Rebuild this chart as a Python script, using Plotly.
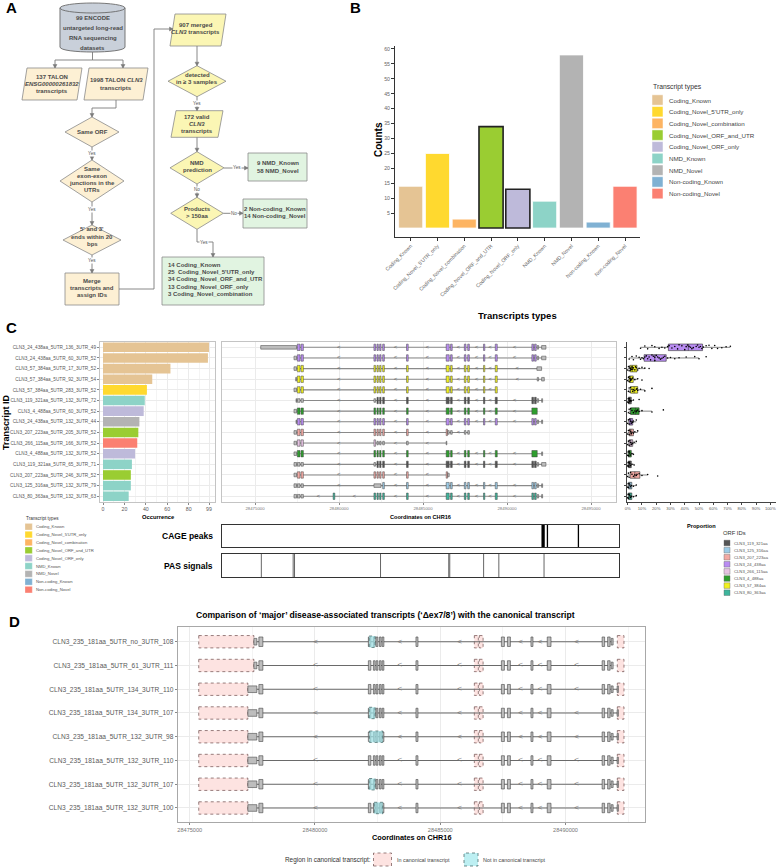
import plotly.graph_objects as go

W, H = 777, 867
FONT = "Liberation Sans, Arial, sans-serif"

# ---------------- DATA: panel B ----------------
type_names = ["Coding_Known", "Coding_Novel_5'UTR_only", "Coding_Novel_combination",
              "Coding_Novel_ORF_and_UTR", "Coding_Novel_ORF_only", "NMD_Known",
              "NMD_Novel", "Non-coding_Known", "Non-coding_Novel"]
type_counts = [14, 25, 3, 34, 13, 9, 58, 2, 14]
count_ticks = [5, 10, 15, 20, 25, 30, 35, 40, 45, 50, 55, 60]

# ---------------- DATA: panel C ----------------
c_ids = ["CLN3_24_438aa_5UTR_136_3UTR_49", "CLN3_24_438aa_5UTR_60_3UTR_52",
         "CLN3_57_384aa_5UTR_17_3UTR_52", "CLN3_57_384aa_5UTR_92_3UTR_54",
         "CLN3_57_384aa_5UTR_283_3UTR_52", "CLN3_119_321aa_5UTR_132_3UTR_72",
         "CLN3_4_488aa_5UTR_60_3UTR_52", "CLN3_24_438aa_5UTR_132_3UTR_44",
         "CLN3_207_223aa_5UTR_205_3UTR_52", "CLN3_266_115aa_5UTR_166_3UTR_52",
         "CLN3_4_488aa_5UTR_132_3UTR_52", "CLN3_119_321aa_5UTR_65_3UTR_71",
         "CLN3_207_223aa_5UTR_246_3UTR_52", "CLN3_125_316aa_5UTR_132_3UTR_79",
         "CLN3_80_363aa_5UTR_132_3UTR_63"]
c_types = ["Coding_Known", "Coding_Known", "Coding_Known", "Coding_Known",
           "Coding_Novel_5'UTR_only", "NMD_Known", "Coding_Novel_ORF_only", "NMD_Novel",
           "Coding_Novel_ORF_and_UTR", "Non-coding_Novel", "Coding_Novel_ORF_only",
           "NMD_Known", "Coding_Novel_ORF_and_UTR", "NMD_Known", "NMD_Known"]
c_occurrence = [99, 98, 63, 46, 41, 39, 38, 34, 33, 32, 30, 27, 26, 26, 24]
occ_ticks = [0, 20, 40, 60, 80, 99]
c_orfs = [i.split("_5UTR")[0] for i in c_ids]

canon_exons = [(28475340, 28477480), (28477520, 28477680), (28477740, 28477880),
               (28482080, 28482180), (28482260, 28482340), (28482420, 28482500),
               (28482600, 28482700), (28484020, 28484120), (28486380, 28486560),
               (28486640, 28486740), (28487460, 28487560), (28487660, 28487760),
               (28488600, 28488680), (28489300, 28489420), (28491480, 28491580),
               (28491640, 28491740), (28491800, 28491880), (28492060, 28492320)]
c_tx_start = [28475340, 28477320, 28477320, 28477420, 28477320, 28477440, 28477320, 28477440,
              28477320, 28477320, 28477320, 28477320, 28477320, 28477320, 28477320]
c_tx_end = [28492320, 28492320, 28492060, 28492220, 28489420, 28492120, 28491800, 28492120,
            28487760, 28486420, 28492120, 28492320, 28486560, 28492120, 28492120]
c_cds_start = [28477520, 28477520, 28477520, 28477520, 28477520, 28482260, 28477520, 28477520,
               28477520, 28477520, 28477520, 28482260, 28477520, 28482600, 28479650]
c_cds_end = [28491740, 28491740, 28489420, 28489420, 28489420, 28491740, 28491800, 28491740,
             28486460, 28482180, 28491800, 28491740, 28486460, 28491740, 28491740]
c_skip = [[], [], [14, 15, 16, 17], [14, 15], [], [], [14, 15, 16, 17], [], [], [],
          [14, 15, 16], [], [], [3, 4, 5], []]
c_extra = [[], [], [(28491780, 28492060)], [], [], [], [(28491480, 28491800)], [], [], [],
           [(28491480, 28491800)], [], [], [(28482080, 28482500)], [(28479650, 28479750)]]
coord_ticks_c = [28475000, 28480000, 28485000, 28490000, 28495000]

c_prop = [
    [9, 12, 14, 17, 19, 22, 24, 26, 28, 29, 31, 33, 35, 36, 38, 40, 41, 42, 43, 44, 45,
     46, 48, 49, 50, 51, 52, 53, 55, 57, 59, 61, 63, 66, 69, 72],
    [1, 3, 4, 6, 8, 9, 10, 11, 12, 13, 14, 15, 16, 17, 18, 19, 19, 20, 21, 22, 23, 24,
     25, 26, 28, 30, 33, 36, 41, 47, 50, 55],
    [0, 0.5, 1, 1, 1.5, 2, 2, 2.5, 3, 3, 3.5, 4, 5, 5.5, 6, 7, 8, 10, 12, 15],
    [0, 0.5, 1, 1, 1.5, 2, 2, 2.5, 3, 3.5, 5, 7, 10],
    [0.5, 1, 1.5, 2, 3, 3.5, 4, 5, 6, 6.5, 7, 9, 12, 17],
    [0, 0.3, 0.5, 1, 1, 1.5, 2, 2.5, 4, 8],
    [0.5, 1, 1.5, 2, 3, 4, 5, 6, 6.5, 7, 8, 10, 17, 25],
    [0, 0.5, 1, 1.5, 2, 2.5, 3, 3.5, 4, 6],
    [0, 0.5, 1, 1.5, 2, 2.5, 3, 4, 5, 7],
    [0, 0.5, 1, 1.5, 2, 2.5, 3, 3.5, 4.5, 6],
    [0, 0.3, 0.5, 1, 1.5, 2, 3, 4],
    [0, 0.3, 0.5, 1, 1.5, 2, 3, 4.5],
    [0, 0.5, 1, 2, 3, 4, 5, 6, 6.5, 8, 10, 14, 21],
    [0, 0.3, 0.5, 1, 1.5, 2, 2.5, 4, 6],
    [0, 0.3, 0.5, 1, 1.5, 2, 2.5, 4, 6],
]
prop_ticks = [0, 10, 20, 30, 40, 50, 60, 70, 80, 90, 100]
orf_ids = ["CLN3_119_321aa", "CLN3_125_316aa", "CLN3_207_223aa", "CLN3_24_438aa",
           "CLN3_266_115aa", "CLN3_4_488aa", "CLN3_57_384aa", "CLN3_80_363aa"]

cage_peaks = [28492005, 28492260, 28494090]
cage_scores = [5, 1, 1]
pas_sites = [28475360, 28477240, 28477320, 28482400, 28486430, 28486490, 28488490,
             28489390, 28492060]

# ---------------- DATA: panel D ----------------
d_ids = ["CLN3_235_181aa_5UTR_no_3UTR_108", "CLN3_235_181aa_5UTR_61_3UTR_111",
         "CLN3_235_181aa_5UTR_134_3UTR_110", "CLN3_235_181aa_5UTR_134_3UTR_107",
         "CLN3_235_181aa_5UTR_132_3UTR_98", "CLN3_235_181aa_5UTR_132_3UTR_110",
         "CLN3_235_181aa_5UTR_132_3UTR_107", "CLN3_235_181aa_5UTR_132_3UTR_100"]
d_utr3_start = [28477560, 28477560, 28477320, 28477320, 28477320, 28477320, 28477320, 28477320]
d_utr3_end = 28477680
d_exons = [(28477760, 28477920), (28482130, 28482230), (28482330, 28482400),
           (28482440, 28482510), (28482570, 28482640), (28482680, 28482750),
           (28484030, 28484110), (28487440, 28487560), (28487680, 28487800),
           (28488620, 28488700), (28489270, 28489420), (28491460, 28491560),
           (28491680, 28491780), (28491820, 28491900)]
d_utr5_tail = [None, None, (28492060, 28492110), (28492060, 28492110), (28492060, 28492110),
               (28492060, 28492110), (28492060, 28492110), (28492060, 28492110)]
d_cds = (28477680, 28491780)
d_canon_canonical = [(28486360, 28486520), (28486560, 28486710), (28492067, 28492333)]
d_canon_3start = 28475360
d_novel = [[(28482160, 28482400)], [], [], [(28482160, 28482400)], [(28482170, 28482707)],
           [], [(28482160, 28482400)], [(28482360, 28482707)]]
coord_ticks_d = [28475000, 28480000, 28485000, 28490000]

# ---------------- STYLES ----------------
type_color = {"Coding_Known": "#E5C494", "Coding_Novel_5'UTR_only": "#FFD92F",
              "Coding_Novel_combination": "#FDB462", "Coding_Novel_ORF_and_UTR": "#9ACD32",
              "Coding_Novel_ORF_only": "#BEBADA", "NMD_Known": "#8DD3C7",
              "NMD_Novel": "#B3B3B3", "Non-coding_Known": "#80B1D3",
              "Non-coding_Novel": "#FB8072"}
highlight = {"Coding_Novel_ORF_and_UTR", "Coding_Novel_ORF_only"}
orf_color = {"CLN3_119_321aa": "#555555", "CLN3_125_316aa": "#9CCBE6",
             "CLN3_207_223aa": "#F2A9A3", "CLN3_24_438aa": "#B98CF2",
             "CLN3_266_115aa": "#E6C3E3", "CLN3_4_488aa": "#2E9E2E",
             "CLN3_57_384aa": "#F0F020", "CLN3_80_363aa": "#3DB59C"}
UTR_GREY = "#BDBDBD"
GRID = "#EBEBEB"

shapes, annotations = [], []


def px(x):
    return x / W


def py(y):
    return 1 - y / H


def pt(x, y):
    return f"{px(x):.5f},{py(y):.5f}"


def dom_x(a, b):
    return [a / W, b / W]


def dom_y(top, bottom):
    return [1 - bottom / H, 1 - top / H]


def poly(points, fill, line="#8c8c8c", width=0.8, dash="solid"):
    d = "M " + " L ".join(pt(x, y) for x, y in points) + " Z"
    shapes.append(dict(type="path", path=d, xref="paper", yref="paper", fillcolor=fill,
                       line=dict(color=line, width=width, dash=dash)))


def rect(x0, y0, x1, y1, fill, line="#8c8c8c", width=0.8, dash="solid"):
    shapes.append(dict(type="rect", x0=px(x0), x1=px(x1), y0=py(y1), y1=py(y0),
                       xref="paper", yref="paper", fillcolor=fill,
                       line=dict(color=line, width=width, dash=dash)))


def text(x, y, s, size=6, color="#4a4a4a", bold=False, xanchor="center",
         yanchor="middle", angle=0, bg=None):
    if bold:
        s = f"<b>{s}</b>"
    a = dict(x=px(x), y=py(y), xref="paper", yref="paper", text=s, showarrow=False,
             font=dict(family=FONT, size=size, color=color), xanchor=xanchor,
             yanchor=yanchor, textangle=angle, borderpad=0)
    if bg:
        a["bgcolor"] = bg
    annotations.append(a)


def mtext(x, ys, lines, size=6, xanchor="center"):
    for y, s in zip(ys, lines):
        text(x, y, s, size=size, bold=True, xanchor=xanchor)


def conn(points, color="#7a7a7a"):
    for (x0, y0), (x1, y1) in zip(points[:-1], points[1:]):
        shapes.append(dict(type="line", x0=px(x0), y0=py(y0), x1=px(x1), y1=py(y1),
                           xref="paper", yref="paper", line=dict(color=color, width=0.9)))
    (xa, ya), (xb, yb) = points[-2], points[-1]
    s = 2.0
    if xb == xa:
        pts = [(xb - s, yb - 3.5), (xb + s, yb - 3.5), (xb, yb)]
    else:
        pts = [(xb - 3.5, yb - s), (xb - 3.5, yb + s), (xb, yb)]
    poly(pts, color, color, 0.5)


def small(x, y, s):
    text(x, y, s, size=4.6, color="#555", bg="white")


# ================= PANEL A: flowchart =================
PEACH, YEL, GRN, CYL = "#FDF0D4", "#FBF6B4", "#E1F4E1", "#C9D0DA"
EDGE = "#8a8a8a"

x0c, x1c, yt, yb, ry = 60, 125, 8, 47, 5
k = ry * 4 / 3
shapes.append(dict(type="path", xref="paper", yref="paper", fillcolor=CYL,
                   line=dict(color="#6a6a6a", width=0.9),
                   path=f"M {pt(x0c, yt)} L {pt(x0c, yb)} C {pt(x0c, yb + k)} "
                        f"{pt(x1c, yb + k)} {pt(x1c, yb)} L {pt(x1c, yt)} Z"))
shapes.append(dict(type="circle", xref="paper", yref="paper", x0=px(x0c), x1=px(x1c),
                   y0=py(yt + ry), y1=py(yt - ry), fillcolor=CYL,
                   line=dict(color="#6a6a6a", width=0.9)))
mtext(92.5, [18, 28, 38, 48], ["99 ENCODE", "untargeted long-read", "RNA sequencing",
                               "datasets"], size=6)


def para(xa, ya, xb, yb_, fill, sk=5):
    poly([(xa + sk, ya), (xb, ya), (xb - sk, yb_), (xa, yb_)], fill, EDGE, 0.8)


def diamond(xa, ya, xb, yb_, fill):
    cx, cy = (xa + xb) / 2, (ya + yb_) / 2
    poly([(cx, ya), (xb, cy), (cx, yb_), (xa, cy)], fill, EDGE, 0.8)


para(22, 68, 82, 100, PEACH)
mtext(52, [77, 84, 91], ["137 TALON", "<i>ENSG00000261832</i>", "transcripts"])
para(84, 68, 148, 100, PEACH)
mtext(116, [80, 88], ["1998 TALON <i>CLN3</i>", "transcripts"])
diamond(65, 117, 119, 147, PEACH)
mtext(92, [132], ["Same ORF"])
diamond(60, 160, 124, 202, PEACH)
mtext(92, [168.7, 176, 183.2, 190.4], ["Same", "exon-exon", "junctions in the", "UTRs"])
diamond(63, 225, 121, 255, PEACH)
mtext(92, [229.5, 236.8, 244], ["5' and 3'", "ends within 20", "bps"])
shapes.append(dict(type="rect", xref="paper", yref="paper", x0=px(65), x1=px(119),
                   y0=py(305), y1=py(273), fillcolor=PEACH, line=dict(color=EDGE, width=0.8)))
mtext(92, [281, 288.2, 295.4], ["Merge", "transcripts and", "assign IDs"])

para(170, 14, 226, 46, YEL)
mtext(196, [25, 32.4], ["907 merged", "<i>CLN3</i> transcripts"])
diamond(168, 65.7, 226, 96.7, YEL)
mtext(197, [74.7, 81.9], ["detected", "in ≥ 3 samples"])
para(171, 110.7, 223, 137.3, YEL)
mtext(197, [116.7, 123.8, 130.9], ["172 valid", "<i>CLN3</i>", "transcripts"])
diamond(170, 151.7, 224, 184, YEL)
mtext(197, [162.7, 170], ["NMD", "prediction"])
diamond(170.7, 197.3, 223.3, 229.3, YEL)
mtext(197, [209, 216], ["Products", "> 150aa"])

rect(248, 153, 307, 181, GRN, EDGE)
mtext(278, [163.3, 170.7], ["9 NMD_Known", "58 NMD_Novel"])
rect(243, 199, 307, 228, GRN, EDGE)
mtext(275, [209, 216], ["2 Non-coding_Known", "14 Non-coding_Novel"])
rect(162, 257, 264, 305, GRN, EDGE)
mtext(166.5, [265, 272.2, 279.4, 286.6, 293.8],
      ["14 Coding_Known", "25  Coding_Novel_5'UTR_only", "34 Coding_Novel_ORF_and_UTR",
       "13 Coding_Novel_ORF_only", "3 Coding_Novel_combination"], xanchor="left")

conn([(92.5, 52), (92.5, 60), (55, 60), (55, 68)])
conn([(92.5, 60), (123, 60), (123, 68)])
conn([(116, 100), (116, 108), (92, 108), (92, 117)])
conn([(92, 147), (92, 160)]); small(92, 153.5, "Yes")
conn([(92, 202), (92, 225)]); small(92, 210, "Yes")
conn([(92, 255), (92, 273)]); small(92, 261, "Yes")
conn([(119, 289), (154, 289), (154, 29), (173, 29)])
conn([(197, 46), (197, 65.7)])
conn([(197, 96.7), (197, 110.7)]); small(197, 103.3, "Yes")
conn([(197, 137.3), (197, 151.7)])
conn([(224, 168), (248, 168)]); small(237, 168, "Yes")
conn([(197, 184), (197, 197.3)]); small(197, 190, "No")
conn([(223.3, 213.3), (243, 213.3)]); small(234, 213.3, "No")
conn([(197, 229.3), (197, 242), (213, 242), (213, 257)]); small(204, 242, "Yes")

text(11, 8, "A", size=15, color="black", bold=True)
text(355, 7, "B", size=15, color="black", bold=True)
text(11, 328, "C", size=15, color="black", bold=True)
text(14, 621, "D", size=15, color="black", bold=True)

fig = go.Figure()

# ================= PANEL B =================
fig.add_trace(go.Bar(
    x=type_names, y=type_counts, xaxis="x", yaxis="y", width=0.9,
    marker=dict(color=[type_color[t] for t in type_names],
                line=dict(color=["#222" if t in highlight else "white" for t in type_names],
                          width=[1.6 if t in highlight else 0.8 for t in type_names]))))
text(378, 140, "Counts", size=10, color="black", bold=True, angle=-90)
text(517, 316, "Transcripts types", size=9.5, color="black", bold=True)
text(652, 87, "Transcript types", size=6.8, color="#333", xanchor="left")
for i, t in enumerate(type_names):
    yc = 100 + i * 11.7
    rect(652, yc - 5.2, 663, yc + 5.2, type_color[t], "white", 0.5)
    text(667.5, yc, t, size=6.2, color="#444", xanchor="left")

# ================= PANEL C left =================
rows = list(range(len(c_ids)))
fig.add_trace(go.Bar(
    x=c_occurrence, y=rows, orientation="h", xaxis="x2", yaxis="y2", width=0.9,
    marker=dict(color=[type_color[t] for t in c_types], line=dict(width=0))))
text(158, 516.5, "Occurrence", size=5.8, color="black", bold=True)
text(6, 422, "Transcript ID", size=9, color="black", bold=True, angle=-90)
text(25, 518.5, "Transcript types", size=4.6, color="#333", xanchor="left")
for i, t in enumerate(type_names):
    yc = 526.7 + i * 7.87
    rect(25, yc - 3.3, 32.3, yc + 3.3, type_color[t], "white", 0.3)
    text(35, yc, t, size=4.2, color="#555", xanchor="left")

# ================= PANEL C middle: transcript structures =================


def split_cds(s, e, cs, ce):
    parts = []
    if s < cs:
        parts.append((s, min(e, cs), False))
    a, b = max(s, cs), min(e, ce)
    if a < b:
        parts.append((a, b, True))
    if e > ce:
        parts.append((max(s, ce), e, False))
    return parts


def box_path(xs, ys, s, e, yc, h):
    xs += [s, e, e, s, s, None]
    ys += [yc - h, yc - h, yc + h, yc + h, yc - h, None]


intr_x, intr_y, chev_x, chev_y = [], [], [], []
fills = {}
for r in rows:
    ex = [canon_exons[i] for i in range(len(canon_exons)) if i not in c_skip[r]] + c_extra[r]
    ex = sorted((max(s, c_tx_start[r]), min(e, c_tx_end[r])) for s, e in ex)
    ex = [(s, e) for s, e in ex if e > s]
    intr_x += [ex[0][0], ex[-1][1], None]
    intr_y += [r, r, None]
    for (s0, e0), (s1, e1) in zip(ex[:-1], ex[1:]):
        if s1 - e0 > 500:
            chev_x.append((e0 + s1) / 2)
            chev_y.append(r)
    col = orf_color[c_orfs[r]]
    for s, e in ex:
        for a, b, coding in split_cds(s, e, c_cds_start[r], c_cds_end[r]):
            key = col if coding else UTR_GREY
            xs, ys = fills.setdefault(key, ([], []))
            box_path(xs, ys, a, b, r, 0.3 if coding else 0.17)

fig.add_trace(go.Scatter(x=intr_x, y=intr_y, mode="lines", xaxis="x3", yaxis="y3",
                         line=dict(color="#8a8a8a", width=1.1), hoverinfo="skip"))
fig.add_trace(go.Scatter(x=chev_x, y=chev_y, mode="text", text=["<"] * len(chev_x),
                         textfont=dict(size=6, color="#666", family=FONT),
                         xaxis="x3", yaxis="y3", hoverinfo="skip"))
for col, (xs, ys) in fills.items():
    fig.add_trace(go.Scatter(x=xs, y=ys, mode="lines", fill="toself", fillcolor=col,
                             line=dict(color="#444", width=0.5), xaxis="x3", yaxis="y3",
                             hoverinfo="skip"))
text(420, 516.5, "Coordinates on CHR16", size=5.6, color="black", bold=True)

# ================= PANEL C right: proportions =================
for r in rows:
    col = orf_color[c_orfs[r]]
    fig.add_trace(go.Box(x=c_prop[r], y=[r] * len(c_prop[r]), orientation="h",
                         xaxis="x4", yaxis="y4", boxpoints="all", jitter=0.9, pointpos=0,
                         width=0.62, fillcolor=col, line=dict(color="#333", width=0.6),
                         marker=dict(color="black", size=1.6), whiskerwidth=0))
text(701, 526, "Proportion", size=5.6, color="black", bold=True)
text(722, 532.5, "ORF IDs", size=5.8, color="#333", xanchor="left")
for i, o in enumerate(orf_ids):
    yc = 543 + i * 7.1
    rect(724, yc - 2.8, 730, yc + 2.8, orf_color[o], "#666", 0.4)
    text(733, yc, o, size=4.2, color="#555", xanchor="left")

# ================= CAGE / PAS =================
for p, sc in zip(cage_peaks, cage_scores):
    fig.add_trace(go.Scatter(x=[p, p], y=[0, 1], mode="lines", xaxis="x5", yaxis="y5",
                             line=dict(color="black", width=0.8 + 0.5 * sc),
                             hoverinfo="skip"))
pas_x, pas_y = [], []
for p in pas_sites:
    pas_x += [p, p, None]
    pas_y += [0, 1, None]
fig.add_trace(go.Scatter(x=pas_x, y=pas_y, mode="lines", xaxis="x6", yaxis="y6",
                         line=dict(color="#555", width=0.9), hoverinfo="skip"))
text(214, 536, "CAGE peaks", size=8.5, color="black", bold=True, xanchor="right")
text(214, 566, "PAS signals", size=8.5, color="black", bold=True, xanchor="right")

# ================= PANEL D =================
pink_x, pink_y, cyan_x, cyan_y = [], [], [], []
dl_x, dl_y, dch_x, dch_y = [], [], [], []
dfill = {"utr": ([], []), "cds": ([], [])}
for r in range(len(d_ids)):
    box_path(pink_x, pink_y, d_canon_3start, d_utr3_start[r], r, 0.26)
    for s, e in d_canon_canonical:
        box_path(pink_x, pink_y, s, e, r, 0.26)
    ex = [(d_utr3_start[r], d_utr3_end)] + d_exons
    if d_utr5_tail[r]:
        ex = ex + [d_utr5_tail[r]]
    dl_x += [ex[0][0], ex[-1][1], None]
    dl_y += [r, r, None]
    for (s0, e0), (s1, e1) in zip(ex[:-1], ex[1:]):
        if s1 - e0 > 500:
            dch_x.append((e0 + s1) / 2)
            dch_y.append(r)
    for s, e in ex:
        for a, b, coding in split_cds(s, e, d_cds[0], d_cds[1]):
            xs, ys = dfill["cds" if coding else "utr"]
            box_path(xs, ys, a, b, r, 0.2 if coding else 0.14)
    for s, e in d_novel[r]:
        box_path(cyan_x, cyan_y, s, e, r, 0.24)

fig.add_trace(go.Scatter(x=pink_x, y=pink_y, mode="lines", fill="toself",
                         fillcolor="#FDE3E1", line=dict(color="#6b4b4b", width=0.7, dash="dot"),
                         xaxis="x7", yaxis="y7", hoverinfo="skip"))
fig.add_trace(go.Scatter(x=dl_x, y=dl_y, mode="lines", xaxis="x7", yaxis="y7",
                         line=dict(color="#6a6a6a", width=1.1), hoverinfo="skip"))
fig.add_trace(go.Scatter(x=dch_x, y=dch_y, mode="text", text=["<"] * len(dch_x),
                         textfont=dict(size=8, color="#777", family=FONT),
                         xaxis="x7", yaxis="y7", hoverinfo="skip"))
for key in ["utr", "cds"]:
    xs, ys = dfill[key]
    fig.add_trace(go.Scatter(x=xs, y=ys, mode="lines", fill="toself", fillcolor="#BDBDBD",
                             line=dict(color="#444", width=0.6), xaxis="x7", yaxis="y7",
                             hoverinfo="skip"))
fig.add_trace(go.Scatter(x=cyan_x, y=cyan_y, mode="lines", fill="toself",
                         fillcolor="rgba(160,228,232,0.7)",
                         line=dict(color="#3b5b5b", width=0.7, dash="dot"),
                         xaxis="x7", yaxis="y7", hoverinfo="skip"))
text(385, 615, "Comparison of ‘major’ disease-associated transcripts (‘Δex7/8’) with the "
     "canonical transcript", size=8.6, color="black", bold=True)
text(411, 837.5, "Coordinates on CHR16", size=7.3, color="black", bold=True)
text(372, 859.5, "Region in canonical transcript:", size=6.4, color="#333", xanchor="right")
rect(373.5, 853, 391.5, 866, "#FDE3E1", "#6b4b4b", 0.7, "dot")
text(396, 859.5, "In canonical transcript", size=5.4, color="#444", xanchor="left")
rect(464, 853, 478, 866, "#BDEFF2", "#3b5b5b", 0.7, "dot")
text(482, 859.5, "Not in canonical transcript", size=5.4, color="#444", xanchor="left")

# ================= AXES =================
tickf = lambda s, c="#5a5a5a": dict(family=FONT, size=s, color=c)
c_yrange = [14.54, -0.5]
common_grid = dict(showgrid=True, gridcolor=GRID, gridwidth=0.6, zeroline=False,
                   automargin=False)
box_border = dict(showline=True, mirror=True, linecolor="#C4C4C4", linewidth=1)
plain = dict(showticklabels=False, showgrid=False, zeroline=False, showline=True,
             mirror=True, linecolor="#333", linewidth=1.3, automargin=False, ticks="")

layout = dict(
    template="none",
    width=W, height=H, margin=dict(l=0, r=0, t=0, b=0, pad=0, autoexpand=False),
    showlegend=False, paper_bgcolor="white", plot_bgcolor="white", shapes=shapes,
    annotations=annotations, font=dict(family=FONT), hovermode=False,
    xaxis=dict(domain=dom_x(395, 640), anchor="y", range=[-0.585, 8.56], showline=True,
               linecolor="#333", linewidth=1, ticks="outside", ticklen=3, tickcolor="#333",
               tickangle=-45, tickfont=tickf(5.2, "#666"), showgrid=False, zeroline=False,
               automargin=False),
    yaxis=dict(domain=dom_y(46, 237), anchor="x", range=[-3, 61], tickvals=count_ticks,
               showline=True, linecolor="#333", linewidth=1, ticks="outside", ticklen=3,
               tickcolor="#333", tickfont=tickf(5.2, "#666"), showgrid=False, zeroline=False,
               automargin=False),
    xaxis2=dict(domain=dom_x(100, 215), anchor="y2", range=[-2.8, 104.6], tickvals=occ_ticks,
                ticks="outside", ticklen=2, tickcolor="#888", tickfont=tickf(5.2),
                minor=dict(tickvals=[10, 30, 50, 70, 90], showgrid=True, gridcolor="#F4F4F4"),
                **common_grid, **box_border),
    yaxis2=dict(domain=dom_y(342, 502), anchor="x2", range=c_yrange, tickvals=rows,
                ticktext=c_ids, ticks="outside", ticklen=2, tickcolor="#888",
                tickfont=tickf(4.7), **common_grid, **box_border),
    xaxis3=dict(domain=dom_x(222, 616), anchor="y3", range=[28473036, 28496488],
                tickvals=coord_ticks_c, ticktext=[str(v) for v in coord_ticks_c],
                ticks="outside", ticklen=2, tickcolor="#888", tickfont=tickf(4.3, "#777"),
                minor=dict(dtick=2500, tick0=28475000, showgrid=True, gridcolor="#F4F4F4"),
                **common_grid, **box_border),
    yaxis3=dict(domain=dom_y(342, 502), anchor="x3", range=c_yrange, tickvals=rows,
                showticklabels=False, **common_grid, **box_border),
    xaxis4=dict(domain=dom_x(627, 776), anchor="y4", range=[-0.5, 104], tickvals=prop_ticks,
                ticktext=[f"{v}%" for v in prop_ticks], ticks="outside", ticklen=2,
                tickcolor="#444", tickfont=tickf(4.2), showline=True, linecolor="#444",
                linewidth=0.8, showgrid=False, zeroline=False, automargin=False),
    yaxis4=dict(domain=dom_y(342, 502), anchor="x4", range=c_yrange, tickvals=rows,
                showticklabels=False, ticks="outside", ticklen=2, tickcolor="#444",
                showline=True, linecolor="#444", linewidth=0.8, showgrid=False,
                zeroline=False, automargin=False),
    xaxis5=dict(domain=dom_x(222, 619), anchor="y5", range=[28473036, 28496488], **plain),
    yaxis5=dict(domain=dom_y(525, 547), anchor="x5", range=[0, 1], **plain),
    xaxis6=dict(domain=dom_x(222, 619), anchor="y6", range=[28473036, 28496488], **plain),
    yaxis6=dict(domain=dom_y(554, 577), anchor="x6", range=[0, 1], **plain),
    xaxis7=dict(domain=dom_x(178, 645), anchor="y7", range=[28474532, 28493172],
                tickvals=coord_ticks_d, ticktext=[str(v) for v in coord_ticks_d],
                ticks="outside", ticklen=2, tickcolor="#888", tickfont=tickf(5.6, "#777"),
                minor=dict(dtick=2500, tick0=28475000, showgrid=True, gridcolor="#F4F4F4"),
                showgrid=True, gridcolor=GRID, zeroline=False, showline=True, mirror=True,
                linecolor="#A8A8A8", linewidth=1.4, automargin=False),
    yaxis7=dict(domain=dom_y(627, 822), anchor="x7", range=[7.59, -0.62],
                tickvals=list(range(len(d_ids))), ticktext=d_ids, ticks="outside",
                ticklen=2, tickcolor="#888", tickfont=tickf(6.6), showgrid=True,
                gridcolor=GRID, zeroline=False, showline=True, mirror=True,
                linecolor="#A8A8A8", linewidth=1.4, automargin=False),
)
fig.update_layout(**layout)
fig.write_html("out.html", config={"displayModeBar": False},
               post_script="document.body.style.margin='0px';")
